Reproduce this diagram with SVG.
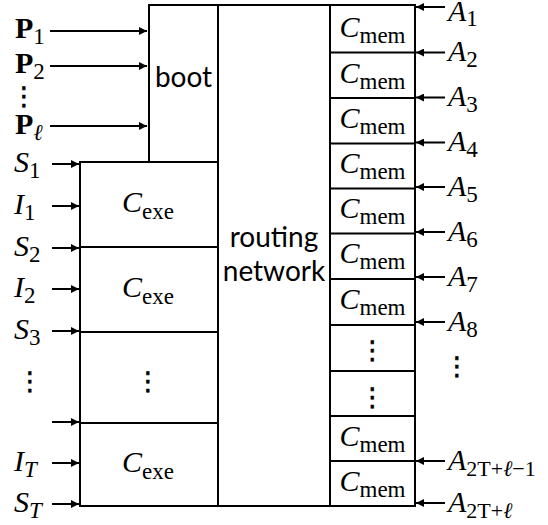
<svg xmlns="http://www.w3.org/2000/svg" width="548" height="525" viewBox="0 0 548 525">
<defs>
<marker id="ah" markerUnits="userSpaceOnUse" viewBox="0 0 10 10" markerWidth="9" markerHeight="8" refX="10" refY="5" orient="auto">
<path d="M0,0 L10,5 L0,10 z" fill="#000"/>
</marker>
<style>
.box{fill:#fff;stroke:#000;stroke-width:2}
.ln{stroke:#000;stroke-width:2;fill:none}
.ar{stroke:#000;stroke-width:2;fill:none;marker-end:url(#ah)}
.sans{font-family:Lato,"Liberation Sans",sans-serif;font-size:28px;fill:#000}
.m{font-family:"Liberation Serif",serif;font-size:30px;font-style:italic;fill:#000}
.b{font-family:"Liberation Serif",serif;font-size:30px;font-weight:bold;fill:#000}
.sub{font-style:normal;font-weight:normal;font-size:23px}
.dots{font-family:"DejaVu Sans",sans-serif;font-size:26px;fill:#000;stroke:#000;stroke-width:0.6}
</style>
</defs>
<rect width="548" height="525" fill="#fff"/>
<g id="boot">
<rect class="box" x="149" y="5" width="69" height="157"/>
<text class="sans" x="183.5" y="87" text-anchor="middle">boot</text>
</g>
<g id="routing">
<rect class="box" x="218" y="5" width="112" height="501"/>
<text class="sans" x="274" y="247" text-anchor="middle">routing</text>
<text class="sans" x="274" y="281" text-anchor="middle">network</text>
</g>
<g id="exe">
<rect class="box" x="80" y="162" width="138" height="344"/>
<line class="ln" x1="80" y1="247" x2="218" y2="247"/>
<line class="ln" x1="80" y1="332" x2="218" y2="332"/>
<line class="ln" x1="80" y1="423" x2="218" y2="423"/>
<text class="m" x="148" y="212" text-anchor="middle">C<tspan class="sub" dy="7">exe</tspan></text>
<text class="m" x="148" y="297" text-anchor="middle">C<tspan class="sub" dy="7">exe</tspan></text>
<text class="dots" x="148" y="390" text-anchor="middle">⋮</text>
<text class="m" x="148" y="472" text-anchor="middle">C<tspan class="sub" dy="7">exe</tspan></text>
</g>
<g id="mem">
<rect class="box" x="330" y="5" width="85" height="501"/>
<line class="ln" x1="330" y1="52.5" x2="415" y2="52.5"/>
<line class="ln" x1="330" y1="98" x2="415" y2="98"/>
<line class="ln" x1="330" y1="143.5" x2="415" y2="143.5"/>
<line class="ln" x1="330" y1="188.5" x2="415" y2="188.5"/>
<line class="ln" x1="330" y1="233.5" x2="415" y2="233.5"/>
<line class="ln" x1="330" y1="279" x2="415" y2="279"/>
<line class="ln" x1="330" y1="325" x2="415" y2="325"/>
<line class="ln" x1="330" y1="371" x2="415" y2="371"/>
<line class="ln" x1="330" y1="416" x2="415" y2="416"/>
<line class="ln" x1="330" y1="461" x2="415" y2="461"/>
<text class="m" x="372.5" y="37" text-anchor="middle">C<tspan class="sub" dy="6">mem</tspan></text>
<text class="m" x="372.5" y="83" text-anchor="middle">C<tspan class="sub" dy="6">mem</tspan></text>
<text class="m" x="372.5" y="128" text-anchor="middle">C<tspan class="sub" dy="6">mem</tspan></text>
<text class="m" x="372.5" y="173" text-anchor="middle">C<tspan class="sub" dy="6">mem</tspan></text>
<text class="m" x="372.5" y="218" text-anchor="middle">C<tspan class="sub" dy="6">mem</tspan></text>
<text class="m" x="372.5" y="263" text-anchor="middle">C<tspan class="sub" dy="6">mem</tspan></text>
<text class="m" x="372.5" y="309" text-anchor="middle">C<tspan class="sub" dy="6">mem</tspan></text>
<text class="dots" x="372.5" y="359" text-anchor="middle">⋮</text>
<text class="dots" x="372.5" y="406" text-anchor="middle">⋮</text>
<text class="m" x="372.5" y="446" text-anchor="middle">C<tspan class="sub" dy="6">mem</tspan></text>
<text class="m" x="372.5" y="491" text-anchor="middle">C<tspan class="sub" dy="6">mem</tspan></text>
</g>
<g id="connectors">
<line class="ar" x1="50" y1="31" x2="147" y2="31"/>
<line class="ar" x1="50" y1="66" x2="147" y2="66"/>
<line class="ar" x1="50" y1="126" x2="147" y2="126"/>
<line class="ar" x1="52" y1="164" x2="79" y2="164"/>
<line class="ar" x1="52" y1="206" x2="79" y2="206"/>
<line class="ar" x1="52" y1="248" x2="79" y2="248"/>
<line class="ar" x1="52" y1="289" x2="79" y2="289"/>
<line class="ar" x1="52" y1="331" x2="79" y2="331"/>
<line class="ar" x1="52" y1="422" x2="79" y2="422"/>
<line class="ar" x1="52" y1="463" x2="79" y2="463"/>
<line class="ar" x1="52" y1="504" x2="79" y2="504"/>
<line class="ar" x1="445" y1="7" x2="416" y2="7"/>
<line class="ar" x1="445" y1="52.5" x2="416" y2="52.5"/>
<line class="ar" x1="445" y1="97.5" x2="416" y2="97.5"/>
<line class="ar" x1="445" y1="142.5" x2="416" y2="142.5"/>
<line class="ar" x1="445" y1="187" x2="416" y2="187"/>
<line class="ar" x1="445" y1="232" x2="416" y2="232"/>
<line class="ar" x1="445" y1="277" x2="416" y2="277"/>
<line class="ar" x1="445" y1="322" x2="416" y2="322"/>
<line class="ar" x1="445" y1="461" x2="416" y2="461"/>
<line class="ar" x1="445" y1="503" x2="416" y2="503"/>
</g>
<g id="left-labels">
<text class="b" x="15" y="38">P<tspan class="sub" dy="6">1</tspan></text>
<text class="b" x="15" y="73">P<tspan class="sub" dy="6">2</tspan></text>
<text class="dots" x="24" y="105" text-anchor="middle">⋮</text>
<text class="b" x="15" y="134">P<tspan class="sub" dy="6" style="font-style:italic">ℓ</tspan></text>
<text class="m" x="14" y="172">S<tspan class="sub" dy="6">1</tspan></text>
<text class="m" x="14" y="214">I<tspan class="sub" dy="6">1</tspan></text>
<text class="m" x="14" y="256">S<tspan class="sub" dy="6">2</tspan></text>
<text class="m" x="14" y="297">I<tspan class="sub" dy="6">2</tspan></text>
<text class="m" x="14" y="339">S<tspan class="sub" dy="6">3</tspan></text>
<text class="dots" x="30" y="390" text-anchor="middle">⋮</text>
<text class="m" x="14" y="471">I<tspan class="sub" dy="6" style="font-style:italic">T</tspan></text>
<text class="m" x="14" y="512">S<tspan class="sub" dy="6" style="font-style:italic">T</tspan></text>
</g>
<g id="right-labels">
<text class="m" x="448" y="21">A<tspan class="sub" dy="5">1</tspan></text>
<text class="m" x="448" y="61">A<tspan class="sub" dy="6">2</tspan></text>
<text class="m" x="448" y="106">A<tspan class="sub" dy="6">3</tspan></text>
<text class="m" x="448" y="151">A<tspan class="sub" dy="6">4</tspan></text>
<text class="m" x="448" y="196">A<tspan class="sub" dy="6">5</tspan></text>
<text class="m" x="448" y="241">A<tspan class="sub" dy="6">6</tspan></text>
<text class="m" x="448" y="286">A<tspan class="sub" dy="6">7</tspan></text>
<text class="m" x="448" y="331">A<tspan class="sub" dy="6">8</tspan></text>
<text class="dots" x="457" y="375" text-anchor="middle">⋮</text>
<text class="m" x="448" y="470">A<tspan class="sub" dy="6" style="font-size:22px">2T+<tspan style="font-style:italic">ℓ</tspan>−1</tspan></text>
<text class="m" x="448" y="512">A<tspan class="sub" dy="6" style="font-size:22px">2T+<tspan style="font-style:italic">ℓ</tspan></tspan></text>
</g>
</svg>
